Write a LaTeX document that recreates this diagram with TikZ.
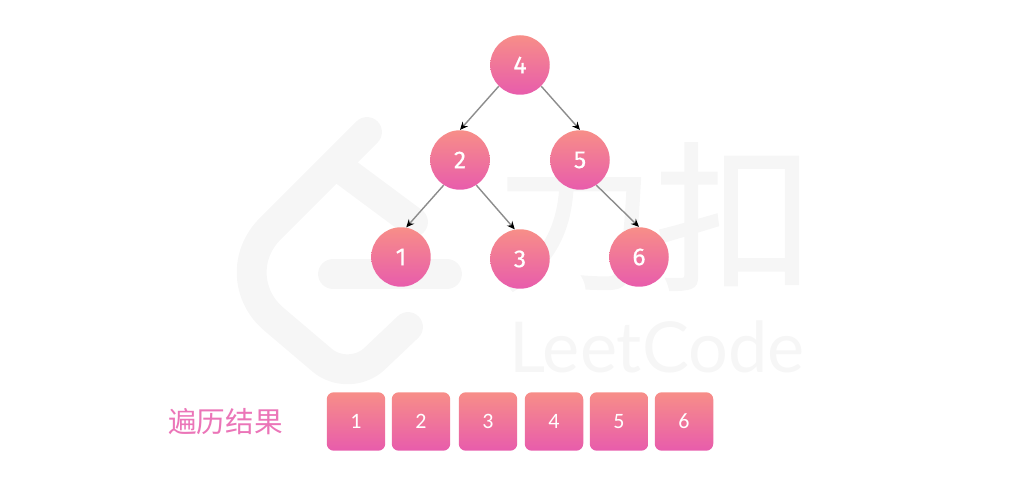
\documentclass[tikz,border=0pt]{standalone}
\usepackage{fontspec}
\usepackage{tikz}
\usetikzlibrary{arrows.meta}
\setmainfont{Fira Sans}
\newfontfamily\cjkfont{Noto Sans CJK SC}
\newfontfamily\cjkmark[FakeBold=1.2]{Noto Sans CJK SC}
\newfontfamily\digitfont[FakeBold=.5]{Fira Sans}
\newfontfamily\boxfont{Carlito}
\newfontfamily\markfont{Lato}
\definecolor{topred}{HTML}{F78E88}
\definecolor{lowpink}{HTML}{E85CAC}
\definecolor{markgray}{HTML}{F6F6F6}
\definecolor{edgegray}{HTML}{8C8C8C}
\def\logoline{(367,132) [rounded corners=38pt] -- (223,276) [rounded corners=20pt] -- (349,383) [sharp corners] -- (408,327)}
\def\logoarm{(343,170) -- (413,222)}
\def\logobar{(333,274) -- (447,274)}
\tikzset{
	treenode/.style={circle,minimum size=1.19cm,inner sep=0pt,top color=topred,bottom color=lowpink,text=white,font=\digitfont\fontsize{14}{14}\selectfont},
	resultbox/.style={rounded corners=4pt,minimum size=1.17cm,inner sep=0pt,top color=topred,bottom color=lowpink,text=white,font=\boxfont\fontsize{12.5}{13}\selectfont},
	treeedge/.style={draw=edgegray,line width=.8pt,-{Stealth[black,length=4.5pt,width=4pt]}},
	markstroke/.style={draw=markgray,line width=17pt,line cap=round,line join=round}
}
\begin{document}
\begin{tikzpicture}[x=.02cm,y=-.02cm]
	\useasboundingbox (0,0) rectangle (1028,482);
	% watermark
	\draw[markstroke] \logoline;
	\draw[markstroke] \logoarm;
	\draw[markstroke] \logobar;
	\node[text=markgray,inner sep=0pt,font=\cjkmark\fontsize{91}{91}\selectfont] (markcn) at (655,217) {力扣};
	\node[text=markgray,inner sep=0pt,font=\markfont\fontsize{40}{40}\selectfont] (markname) at (657,347) {LeetCode};
	% tree
	\foreach \name/\val/\px/\py in {n4/4/520/65,n2/2/460/160,n5/5/580/160,n1/1/401/257,n3/3/520/259,n6/6/639/257}
		\node[treenode] (\name) at (\px,\py) {\val};
	\draw[treeedge] (n4.225) -- (n2.north);
	\draw[treeedge] (n4.315) -- (n5.north);
	\draw[treeedge] (n2.237) -- (n1.80);
	\draw[treeedge] (n2.303) -- (n3.100);
	\draw[treeedge] (n5.303) -- (n6.north);
	% result row
	\node[text=lowpink!85!white,inner sep=0pt,font=\cjkfont\fontsize{16.3}{16.3}\selectfont] (title) at (225.5,422) {遍历结果};
	\foreach \val/\px in {1/356,2/421,3/488,4/554,5/619,6/684}
		\node[resultbox] (r\val) at (\px,421.5) {\val};
\end{tikzpicture}
\end{document}
